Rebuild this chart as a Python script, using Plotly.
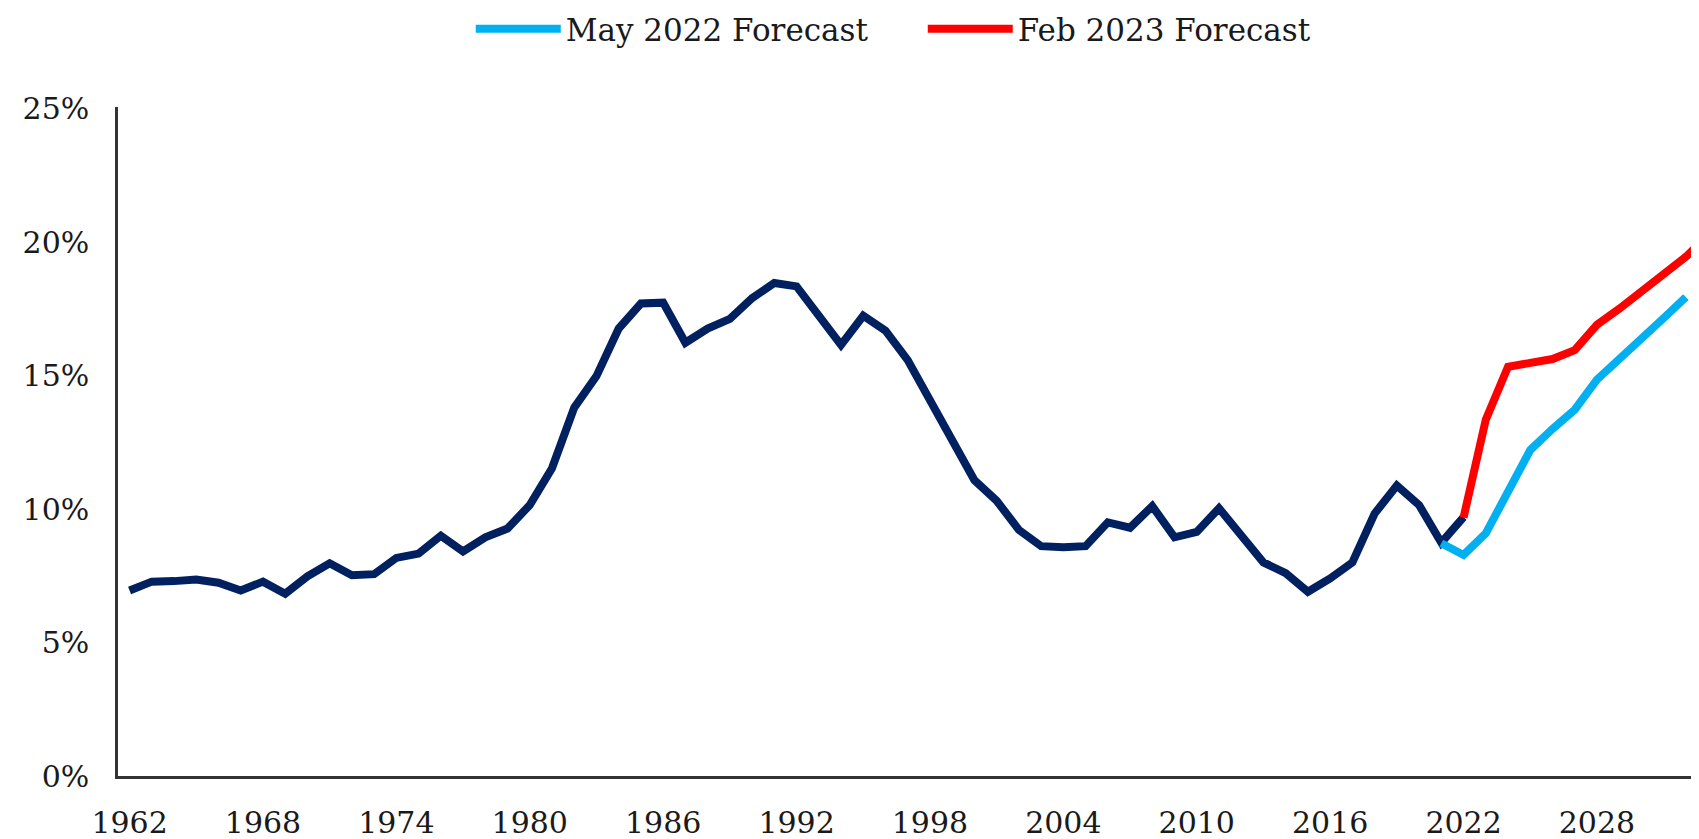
import plotly.graph_objects as go

# Historical series (percent), 1962-2022
hist_years = list(range(1962, 2023))
hist_vals = [6.95, 7.28, 7.30, 7.36, 7.24, 6.95, 7.28, 6.83, 7.48, 7.97,
             7.52, 7.56, 8.17, 8.33, 9.00, 8.41, 8.94, 9.27, 10.15, 11.53,
             13.80, 14.98, 16.76, 17.70, 17.73, 16.23, 16.76, 17.12, 17.90, 18.47,
             18.34, 17.28, 16.15, 17.24, 16.68, 15.58, 14.12, 12.66, 11.08, 10.31,
             9.22, 8.61, 8.57, 8.61, 9.50, 9.30, 10.11, 8.94, 9.14, 10.03,
             9.06, 8.00, 7.60, 6.90, 7.40, 8.00, 9.83, 10.88, 10.15, 8.74,
             9.70]

# May 2022 forecast, 2021-2032
may22_years = list(range(2021, 2033))
may22_vals = [8.72, 8.28, 9.09, 10.59, 12.21, 13.00, 13.72, 14.85, 15.65, 16.35, 17.15, 17.94]

# Feb 2023 forecast, 2022-2033
feb23_years = list(range(2022, 2034))
feb23_vals = [9.68, 13.35, 15.33, 15.50, 15.62, 15.95, 16.90, 17.50, 18.15, 18.75, 19.45, 20.25]

tick_years = list(range(1962, 2029, 6))
y_ticks = [0, 5, 10, 15, 20, 25]

NAVY = "#002060"
LIGHT_BLUE = "#00B0F0"
RED = "#FF0000"
FONT = "DejaVu Serif"
LW = 8

fig = go.Figure()
fig.add_trace(go.Scatter(x=hist_years, y=hist_vals, mode="lines",
                         line=dict(color=NAVY, width=LW), showlegend=False,
                         name="Historical"))
fig.add_trace(go.Scatter(x=may22_years, y=may22_vals, mode="lines",
                         line=dict(color=LIGHT_BLUE, width=LW),
                         name="May 2022 Forecast"))
fig.add_trace(go.Scatter(x=feb23_years, y=feb23_vals, mode="lines",
                         line=dict(color=RED, width=LW),
                         name="Feb 2023 Forecast"))

fig.update_layout(
    width=1699, height=839,
    margin=dict(l=109.5, r=0, t=98.5, b=70.5, autoexpand=False),
    paper_bgcolor="white", plot_bgcolor="white",
    font=dict(family=FONT, color="#1a1a1a", size=30),
    legend=dict(orientation="h", x=0.222, xanchor="left",
                yref="container", y=0.975, yanchor="middle",
                font=dict(family=FONT, size=31, color="#1a1a1a"),
                itemwidth=85, entrywidth=352, entrywidthmode="pixels",
                bgcolor="rgba(0,0,0,0)"),
    xaxis=dict(range=[1961.48, 2032.95], tickmode="array", tickvals=tick_years,
               ticktext=[str(y) for y in tick_years], showgrid=False, zeroline=False,
               showline=True, linecolor="#333333", linewidth=2.5, ticks="",
               ticklabelstandoff=18, tickfont=dict(family=FONT, size=30)),
    yaxis=dict(range=[0, 25.06], tickmode="array", tickvals=y_ticks,
               ticktext=[f"{v}%" for v in y_ticks], showgrid=False, zeroline=False,
               showline=True, linecolor="#333333", linewidth=2.5, ticks="",
               ticklabelstandoff=20, tickfont=dict(family=FONT, size=30)),
)

fig.write_html("out.html")
